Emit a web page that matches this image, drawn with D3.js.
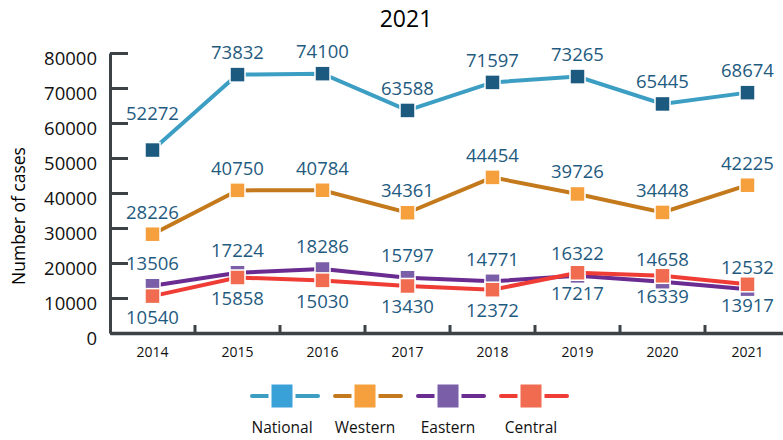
<!DOCTYPE html>
<html>
<head>
<meta charset="utf-8">
<script src="https://cdn.jsdelivr.net/npm/d3@7"></script>
<style>
  body { margin: 0; background: #fff; }
  svg { font-family: "Open Sans", sans-serif; }
</style>
</head>
<body>
<div id="chart"></div>
<script>
// data
var years = ["2014", "2015", "2016", "2017", "2018", "2019", "2020", "2021"];
var national = [52272, 73832, 74100, 63588, 71597, 73265, 65445, 68674];
var western = [28226, 40750, 40784, 34361, 44454, 39726, 34448, 42225];
var eastern = [13506, 17224, 18286, 15797, 14771, 16322, 14658, 12532];
var central = [10540, 15858, 15030, 13430, 12372, 17217, 16339, 13917];
var yTicks = [0, 10000, 20000, 30000, 40000, 50000, 60000, 70000, 80000];
var seriesNames = ["National", "Western", "Eastern", "Central"];

var series = [
    {name: seriesNames[0], values: national, line: "#3d9ec4", mark: "#1c5a80", legend: "#3aa0d8", labelPos: "above"},
    {name: seriesNames[1], values: western, line: "#c47a1c", mark: "#f5a03c", legend: "#f5a03c", labelPos: "above"},
    {name: seriesNames[2], values: eastern, line: "#6a2c91", mark: "#7a5ea8", legend: "#7a5ea8", labelPos: "above"},
    {name: seriesNames[3], values: central, line: "#ef3c35", mark: "#f06b4f", legend: "#f06b4f", labelPos: "below"}
];

var width = 783, height = 440;
var svg = d3.select("#chart").append("svg")
    .attr("width", width)
    .attr("height", height);

var x = d3.scaleBand().domain(years).range([110, 790]);
var y = d3.scaleLinear().domain([0, 80000]).range([333, 53]);
var axisColor = "#3d4247";

// title
svg.append("text")
    .attr("x", 406).attr("y", 27)
    .attr("text-anchor", "middle")
    .attr("font-size", 23)
    .attr("fill", "#000")
    .text("2021");

// y axis title
svg.append("text")
    .attr("transform", "translate(25,216) rotate(-90)")
    .attr("text-anchor", "middle")
    .attr("font-size", 17.5)
    .attr("fill", "#000")
    .text("Number of cases");

// y axis, ticks pointing inward
var yAxis = svg.append("g")
    .attr("transform", "translate(110,0)")
    .call(d3.axisLeft(y).tickValues(yTicks).tickSizeInner(-18).tickSizeOuter(0).tickPadding(13).tickFormat(d3.format("d")));
yAxis.selectAll("path, line").attr("stroke", axisColor).attr("stroke-width", 3);
yAxis.selectAll("text")
    .attr("font-size", 18.5)
    .attr("font-family", "Open Sans")
    .attr("fill", "#111")
    .attr("dy", "0.6em");

// x axis
var xAxis = svg.append("g")
    .attr("transform", "translate(0,333)")
    .call(d3.axisBottom(x).tickSize(0).tickPadding(14));
xAxis.select("path").attr("stroke", axisColor).attr("stroke-width", 3.5);
xAxis.selectAll("text")
    .attr("font-size", 14)
    .attr("font-family", "Open Sans")
    .attr("fill", "#111");

// boundary ticks between years
xAxis.selectAll(".bound")
    .data(years.slice(0, -1))
    .enter().append("line")
    .attr("class", "bound")
    .attr("x1", function (d) { return x(d) + x.bandwidth(); })
    .attr("x2", function (d) { return x(d) + x.bandwidth(); })
    .attr("y1", 0).attr("y2", -8)
    .attr("stroke", axisColor)
    .attr("stroke-width", 3);

var cx = function (i) { return x(years[i]) + x.bandwidth() / 2; };

var line = d3.line()
    .x(function (d, i) { return cx(i); })
    .y(function (d) { return y(d); });

var sq = 15;
series.forEach(function (s) {
    var g = svg.append("g").attr("class", "series");
    g.append("path")
        .datum(s.values)
        .attr("d", line)
        .attr("fill", "none")
        .attr("stroke", s.line)
        .attr("stroke-width", 4);
    g.selectAll("rect")
        .data(s.values)
        .enter().append("rect")
        .attr("x", function (d, i) { return cx(i) - sq / 2; })
        .attr("y", function (d) { return y(d) - sq / 2; })
        .attr("width", sq).attr("height", sq)
        .attr("fill", s.mark)
        .attr("stroke", "#fff")
        .attr("stroke-width", 1.5);
});

// value labels
series.forEach(function (s) {
    svg.append("g").selectAll("text")
        .data(s.values)
        .enter().append("text")
        .attr("x", function (d, i) { return cx(i); })
        .attr("y", function (d, i) {
            if (s.labelPos === "below") return y(d) + 21;
            if (s.name === "National" && i === 0) return y(d) - 37;
            return y(d) - 22;
        })
        .attr("dy", "0.35em")
        .attr("text-anchor", "middle")
        .attr("font-size", 18.5)
        .attr("fill", "#1f5b80")
        .text(function (d) { return d; });
});

// legend
var lg = svg.append("g").attr("transform", "translate(282,396)");
var item = lg.selectAll("g")
    .data(series)
    .enter().append("g")
    .attr("transform", function (d, i) { return "translate(" + (i * 83) + ",0)"; });
item.append("line")
    .attr("x1", -30).attr("x2", 36)
    .attr("stroke", function (d) { return d.line; })
    .attr("stroke-width", 4)
    .attr("stroke-linecap", "round");
item.append("rect")
    .attr("x", -12).attr("y", -13)
    .attr("width", 24).attr("height", 26)
    .attr("fill", function (d) { return d.legend; })
    .attr("stroke", "#fff")
    .attr("stroke-width", 3);
item.append("text")
    .attr("y", 37)
    .attr("text-anchor", "middle")
    .attr("font-size", 15.5)
    .attr("fill", "#111")
    .text(function (d) { return d.name; });
</script>
</body>
</html>
